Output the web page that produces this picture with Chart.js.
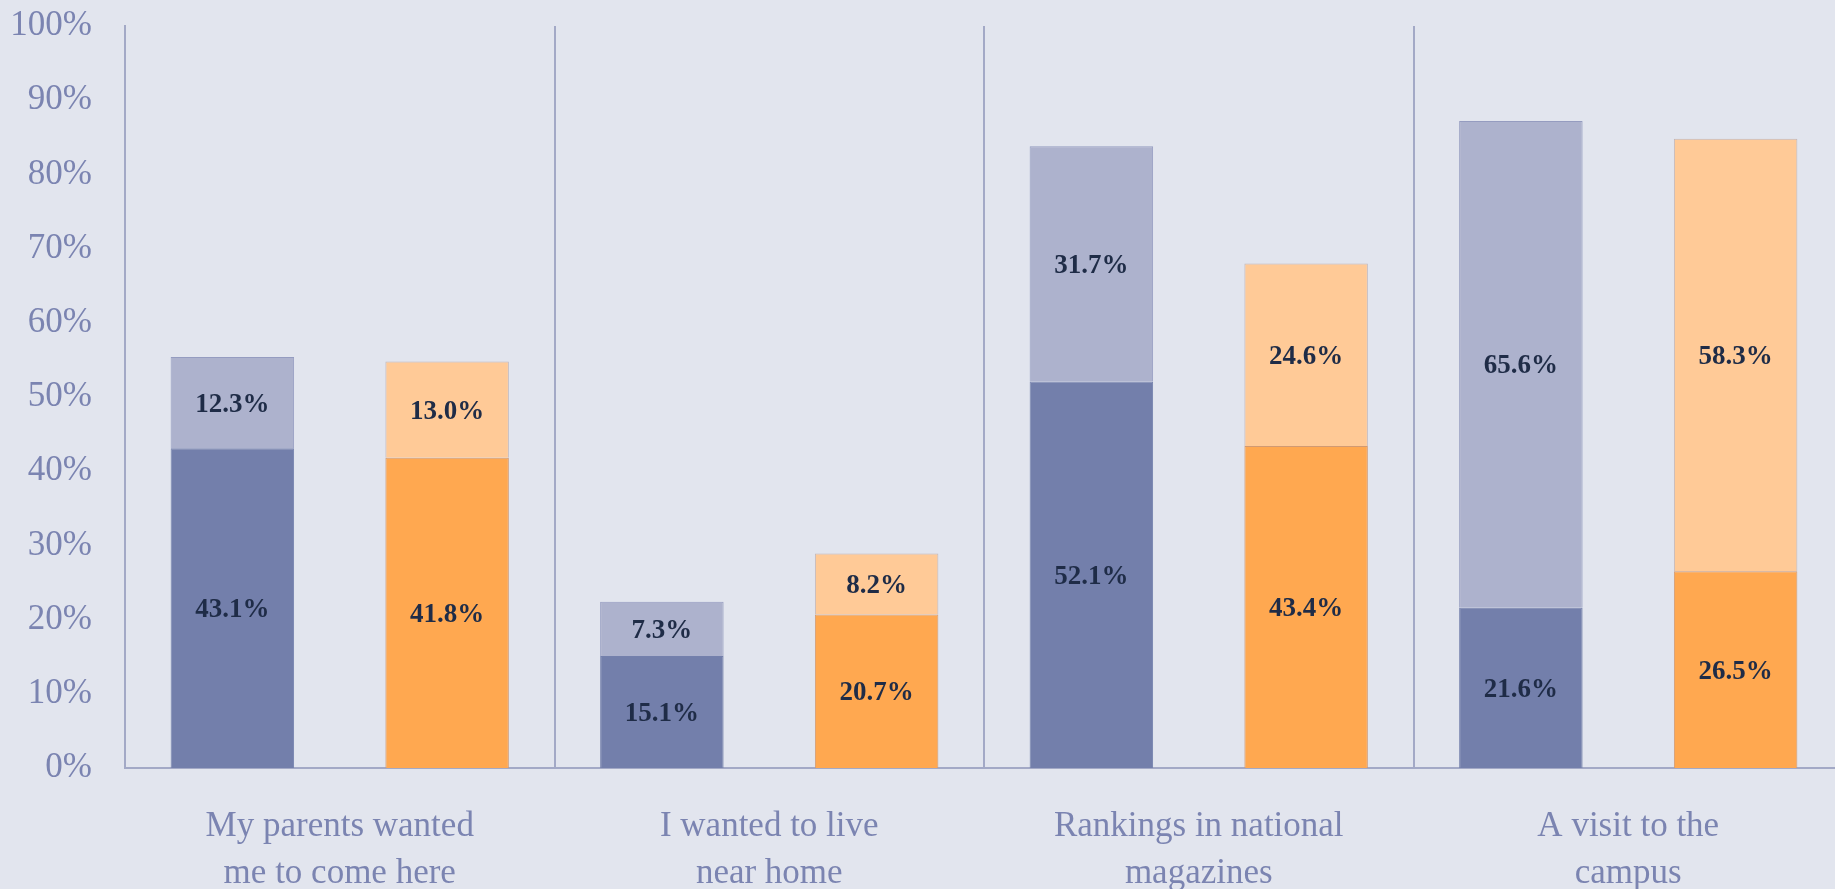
<!DOCTYPE html>
<html>
<head>
<meta charset="utf-8">
<script src="https://cdn.jsdelivr.net/npm/chart.js@4/dist/chart.umd.min.js"></script>
<style>
  html, body { margin: 0; padding: 0; background: #e2e5ee; overflow: hidden; width: 1835px; height: 889px; }
  canvas { display: block; }
</style>
</head>
<body>
<canvas id="c" width="1850" height="889"></canvas>
<script>
const categories = [
  ["My parents wanted", "me to come here"],
  ["I wanted to live", "near home"],
  ["Rankings in national", "magazines"],
  ["A visit to the", "campus"]
];
const blueLower = [43.1, 15.1, 52.1, 21.6];
const blueUpper = [12.3, 7.3, 31.7, 65.6];
const orangeLower = [41.8, 20.7, 43.4, 26.5];
const orangeUpper = [13.0, 8.2, 24.6, 58.3];
const yTicks = [0, 10, 20, 30, 40, 50, 60, 70, 80, 90, 100];

const FONT = "'Liberation Serif', 'Times New Roman', serif";
const AXIS_COLOR = '#7b84b1';
const LINE_COLOR = '#a3a9c6';

const labelPlugin = {
  id: 'segLabels',
  afterDatasetsDraw(chart) {
    const ctx = chart.ctx;
    ctx.save();
    ctx.font = "bold 27px " + FONT;
    ctx.fillStyle = '#1f2c47';
    ctx.textAlign = 'center';
    ctx.textBaseline = 'middle';
    chart.data.datasets.forEach((ds, i) => {
      const meta = chart.getDatasetMeta(i);
      meta.data.forEach((el, j) => {
        const v = ds.data[j];
        const cy = (el.y + el.base) / 2;
        ctx.fillText(v.toFixed(1) + '%', el.x, cy + 2);
      });
    });
    ctx.restore();
  }
};

new Chart(document.getElementById('c'), {
  type: 'bar',
  data: {
    labels: categories,
    datasets: [
      { label: 'a1', data: blueLower, stack: 'a', backgroundColor: '#737fab', borderColor: '#7480ac', borderWidth: 1 },
      { label: 'a2', data: blueUpper, stack: 'a', backgroundColor: '#adb2cd', borderColor: '#959cc0', borderWidth: 1 },
      { label: 'b1', data: orangeLower, stack: 'b', backgroundColor: '#ffa850', borderColor: '#d29a72', borderWidth: 1 },
      { label: 'b2', data: orangeUpper, stack: 'b', backgroundColor: '#ffca97', borderColor: '#c2b6b8', borderWidth: 1 }
    ]
  },
  options: {
    responsive: false,
    animation: false,
    devicePixelRatio: 1,
    layout: { padding: { top: 26, right: 7, left: 0, bottom: 0 } },
    datasets: { bar: { categoryPercentage: 1.0, barPercentage: 0.575 } },
    plugins: { legend: { display: false }, tooltip: { enabled: false } },
    scales: {
      x: {
        stacked: true,
        offset: true,
        grid: { display: true, offset: true, drawTicks: false, color: LINE_COLOR, lineWidth: 2 },
        border: { display: true, color: LINE_COLOR, width: 2 },
        ticks: { color: AXIS_COLOR, font: { family: FONT, size: 35, lineHeight: 1.34 }, padding: 35, maxRotation: 0, autoSkip: false },
        afterFit(scale) { scale.height = 121; scale.paddingLeft = 0; scale.paddingRight = 0; }
      },
      y: {
        stacked: true,
        min: 0,
        max: 100,
        afterBuildTicks(scale) { scale.ticks = yTicks.map(v => ({ value: v })); },
        grid: { display: false, drawTicks: false },
        border: { display: true, color: LINE_COLOR, width: 2 },
        ticks: { color: AXIS_COLOR, font: { family: FONT, size: 35 }, padding: 33, callback: v => v + '%' },
        afterFit(scale) { scale.width = 125; scale.paddingTop = 0; scale.paddingBottom = 0; }
      }
    }
  },
  plugins: [labelPlugin]
});
</script>
</body>
</html>
